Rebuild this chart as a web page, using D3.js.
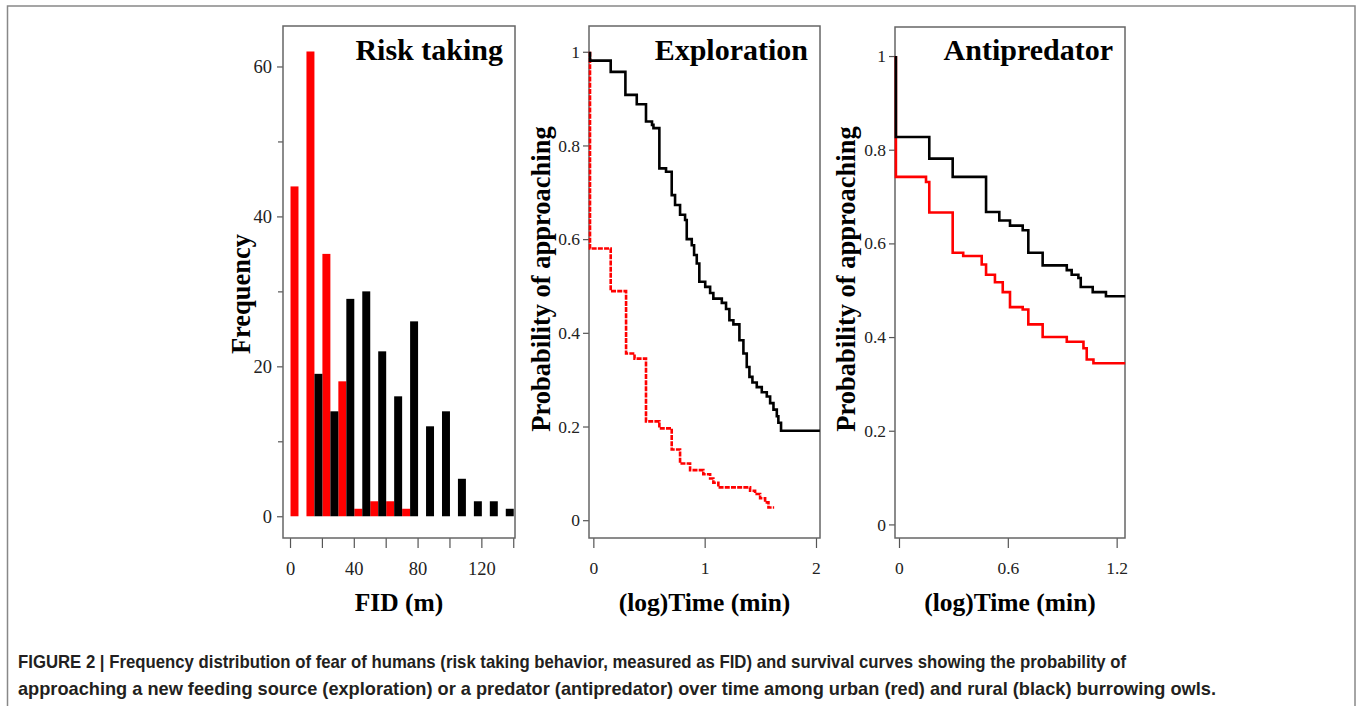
<!DOCTYPE html>
<html>
<head>
<meta charset="utf-8">
<script src="https://cdn.jsdelivr.net/npm/d3@7"></script>
<style>
  html, body { margin: 0; padding: 0; background: #fff; }
  svg { display: block; }
  .tick text { font-family: "Liberation Serif", "Times New Roman", serif; fill: #222; }
</style>
</head>
<body>
<div id="chart"></div>
<script>
// --- data ---
// FID histogram, 10 m bins (bin start)
const fidBins = [0, 10, 20, 30, 40, 50, 60, 70, 80, 90, 100, 110, 120, 130];
const fidUrban = [44, 62, 35, 18, 1, 2, 2, 1, 0, 0, 0, 0, 0, 0];
const fidRural = [0, 19, 14, 29, 30, 22, 16, 26, 12, 14, 5, 2, 2, 1];

// Exploration survival curves: (log)time, probability
const exploreRuralT = [-0.03, -0.03, 0.156, 0.288, 0.39, 0.473, 0.527, 0.54, 0.593, 0.653, 0.704, 0.734, 0.779, 0.824, 0.839, 0.884, 0.905, 0.929, 0.952, 1.005, 1.049, 1.078, 1.154, 1.192, 1.222, 1.258, 1.312, 1.348, 1.378, 1.402, 1.429, 1.468, 1.513, 1.558, 1.588, 1.618, 1.648, 1.662, 1.686, 2.035];
const exploreRuralP = [1, 0.981, 0.957, 0.908, 0.888, 0.851, 0.844, 0.837, 0.751, 0.744, 0.694, 0.673, 0.652, 0.641, 0.600, 0.587, 0.566, 0.548, 0.509, 0.498, 0.485, 0.473, 0.464, 0.451, 0.427, 0.418, 0.384, 0.356, 0.327, 0.306, 0.294, 0.284, 0.273, 0.264, 0.25, 0.236, 0.222, 0.208, 0.191, 0.191];
const exploreUrbanT = [-0.03, -0.03, 0.156, 0.294, 0.37, 0.473, 0.593, 0.704, 0.779, 0.869, 0.988, 1.049, 1.078, 1.123, 1.408, 1.453, 1.498, 1.543, 1.573, 1.624];
const exploreUrbanP = [1, 0.580, 0.489, 0.356, 0.345, 0.211, 0.196, 0.151, 0.121, 0.107, 0.098, 0.089, 0.080, 0.070, 0.063, 0.056, 0.047, 0.038, 0.027, 0.027];

// Antipredator survival curves
const antiRuralT = [-0.017, -0.017, 0.167, 0.296, 0.48, 0.553, 0.612, 0.682, 0.713, 0.792, 0.925, 0.952, 0.989, 1.002, 1.068, 1.141, 1.247];
const antiRuralP = [1, 0.827, 0.781, 0.742, 0.667, 0.649, 0.638, 0.628, 0.580, 0.553, 0.543, 0.533, 0.526, 0.507, 0.496, 0.487, 0.487];
const antiUrbanT = [-0.017, -0.017, 0.149, 0.167, 0.296, 0.354, 0.456, 0.48, 0.529, 0.572, 0.612, 0.682, 0.713, 0.792, 0.925, 1.017, 1.035, 1.072, 1.247];
const antiUrbanP = [1, 0.742, 0.731, 0.666, 0.580, 0.573, 0.555, 0.533, 0.517, 0.496, 0.464, 0.459, 0.427, 0.400, 0.390, 0.376, 0.352, 0.344, 0.344];

const fidTicks = [0, 20, 40, 60, 80, 100, 120, 140];
const fidTickLabels = ["0", "", "40", "", "80", "", "120", ""];
const freqTicks = [0, 20, 40, 60];
const freqMinor = [10, 30, 50];
const probTicks = [0, 0.2, 0.4, 0.6, 0.8, 1];
const probTickLabels = ["0", "0.2", "0.4", "0.6", "0.8", "1"];
const exploreTicks = [0, 1, 2];
const antiTicks = [0, 0.6, 1.2];
const antiTickLabels = ["0", "0.6", "1.2"];

const captionLines = [
  "FIGURE 2 | Frequency distribution of fear of humans (risk taking behavior, measured as FID) and survival curves showing the probability of",
  "approaching a new feeding source (exploration) or a predator (antipredator) over time among urban (red) and rural (black) burrowing owls."
];

const RED = "#ff0000", BLACK = "#000";
const SERIF = '"Liberation Serif", "Times New Roman", serif';

const svg = d3.select("#chart").append("svg")
  .attr("width", 1360).attr("height", 706);

// outer figure border
svg.append("rect")
  .attr("x", 7.5).attr("y", 6).attr("width", 1347.5).attr("height", 720)
  .attr("fill", "none").attr("stroke", "#888").attr("stroke-width", 1.5);

function panel(opt) {
  const g = svg.append("g");
  const x = d3.scaleLinear().domain(opt.xDomain).range([opt.left, opt.right]);
  const y = d3.scaleLinear().domain(opt.yDomain).range([opt.bottom, opt.top]);

  const yAx = g.append("g").attr("transform", `translate(${opt.left},0)`)
    .call(d3.axisLeft(y).tickValues(opt.yTicks).tickSize(6).tickPadding(opt.yPad)
      .tickFormat((d, i) => opt.yLabels[i]));
  yAx.selectAll("text").attr("font-size", opt.tickFont);
  if (opt.yMinor) {
    g.append("g").attr("transform", `translate(${opt.left},0)`)
      .call(d3.axisLeft(y).tickValues(opt.yMinor).tickSize(5).tickFormat(""));
  }
  const xAx = g.append("g").attr("transform", `translate(0,${opt.bottom})`)
    .call(d3.axisBottom(x).tickValues(opt.xTicks).tickSize(10).tickPadding(14)
      .tickFormat((d, i) => opt.xLabels[i]));
  xAx.selectAll("text").attr("font-size", opt.tickFont);
  g.selectAll(".domain").remove();
  g.selectAll(".tick line").attr("stroke", "#555").attr("stroke-width", 1.2);

  g.append("rect")
    .attr("x", opt.left).attr("y", opt.top)
    .attr("width", opt.right - opt.left).attr("height", opt.bottom - opt.top)
    .attr("fill", "none").attr("stroke", "#666").attr("stroke-width", 1.5);

  g.append("text")
    .attr("x", opt.right - 12).attr("y", 60)
    .attr("text-anchor", "end")
    .attr("font-family", SERIF).attr("font-weight", "bold").attr("font-size", 30)
    .text(opt.title);

  g.append("text")
    .attr("x", (opt.left + opt.right) / 2).attr("y", 611)
    .attr("text-anchor", "middle")
    .attr("font-family", SERIF).attr("font-weight", "bold").attr("font-size", 25.5)
    .text(opt.xTitle);

  g.append("text")
    .attr("transform", `translate(${opt.yTitleX},${opt.yTitleY}) rotate(-90)`)
    .attr("text-anchor", "middle")
    .attr("font-family", SERIF).attr("font-weight", "bold").attr("font-size", 26.5)
    .text(opt.yTitle);

  return { g, x, y };
}

// --- panel 1: Risk taking histogram ---
const p1 = panel({
  left: 283, right: 515, top: 26, bottom: 538,
  xDomain: [-4.4, 141.1], yDomain: [-2.9, 65.4],
  yTicks: freqTicks, yLabels: freqTicks.map(String), yMinor: freqMinor, yPad: 5,
  xTicks: fidTicks, xLabels: fidTickLabels, tickFont: 18.5,
  title: "Risk taking", xTitle: "FID (m)", yTitle: "Frequency",
  yTitleX: 250, yTitleY: 294
});
const bins = fidBins.map((b, i) => ({ b, urban: fidUrban[i], rural: fidRural[i] }));
p1.g.append("g").selectAll("rect.urban")
  .data(bins.filter(d => d.urban > 0)).join("rect")
  .attr("x", d => p1.x(d.b) + 0.5)
  .attr("width", d => p1.x(d.b + 5) - p1.x(d.b))
  .attr("y", d => p1.y(d.urban))
  .attr("height", d => p1.y(0) - p1.y(d.urban))
  .attr("fill", RED);
p1.g.append("g").selectAll("rect.rural")
  .data(bins.filter(d => d.rural > 0)).join("rect")
  .attr("x", d => p1.x(d.b + 5) + 0.5)
  .attr("width", d => p1.x(d.b + 10) - p1.x(d.b + 5))
  .attr("y", d => p1.y(d.rural))
  .attr("height", d => p1.y(0) - p1.y(d.rural))
  .attr("fill", BLACK);

// --- panel 2: Exploration ---
const p2 = panel({
  left: 589, right: 820, top: 26, bottom: 538,
  xDomain: [-0.039, 2.036], yDomain: [-0.038, 1.055],
  yTicks: probTicks, yLabels: probTickLabels, yPad: 3,
  xTicks: exploreTicks, xLabels: exploreTicks.map(String), tickFont: 17.5,
  title: "Exploration", xTitle: "(log)Time (min)", yTitle: "Probability of approaching",
  yTitleX: 550, yTitleY: 279
});

// --- panel 3: Antipredator ---
const p3 = panel({
  left: 895, right: 1125, top: 27, bottom: 538,
  xDomain: [-0.022, 1.246], yDomain: [-0.029, 1.062],
  yTicks: probTicks, yLabels: probTickLabels, yPad: 3,
  xTicks: antiTicks, xLabels: antiTickLabels, tickFont: 17.5,
  title: "Antipredator", xTitle: "(log)Time (min)", yTitle: "Probability of approaching",
  yTitleX: 855, yTitleY: 279
});

function stepCurve(p, T, P, color, dash) {
  const pts = T.map((t, i) => [t, P[i]]);
  const line = d3.line().x(d => p.x(d[0])).y(d => p.y(d[1])).curve(d3.curveStepAfter);
  p.g.append("path")
    .attr("d", line(pts))
    .attr("fill", "none").attr("stroke", color).attr("stroke-width", 2.6)
    .attr("stroke-dasharray", dash || null);
}
stepCurve(p2, exploreUrbanT, exploreUrbanP, RED, "5,1.2");
stepCurve(p2, exploreRuralT, exploreRuralP, BLACK);
stepCurve(p3, antiUrbanT, antiUrbanP, RED);
stepCurve(p3, antiRuralT, antiRuralP, BLACK);

// --- caption ---
const capWidths = [1108, 1198];
svg.append("g").selectAll("text")
  .data(captionLines).join("text")
  .attr("x", 18)
  .attr("y", (d, i) => 668 + i * 27)
  .attr("font-family", '"Liberation Sans Narrow", "Arial Narrow", "Liberation Sans", Arial, sans-serif')
  .attr("font-weight", "bold").attr("font-size", 19)
  .attr("fill", "#231f20")
  .attr("textLength", (d, i) => capWidths[i])
  .attr("lengthAdjust", "spacingAndGlyphs")
  .text(d => d);
</script>
</body>
</html>
